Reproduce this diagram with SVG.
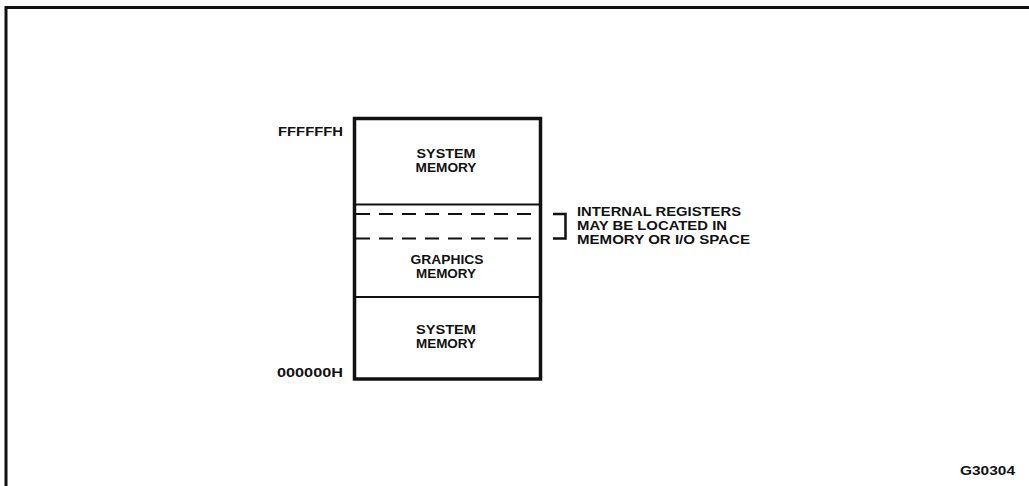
<svg xmlns="http://www.w3.org/2000/svg" width="1029" height="486" viewBox="0 0 1029 486">
<style>
text{font-family:"Liberation Sans",Arial,sans-serif;font-weight:bold;font-size:12.5px;fill:#111}
.c{text-anchor:middle}
.r{text-anchor:end}
.thick{fill:none;stroke:#111;stroke-width:3.5}
.thin{fill:none;stroke:#111;stroke-width:2}
.dash{fill:none;stroke:#111;stroke-width:2;stroke-dasharray:14 9}
</style>
<rect width="1029" height="486" fill="#fff"/>
<g id="frame">
<path d="M6,486 V7.5 H1029" fill="none" stroke="#111" stroke-width="3"/>
</g>
<g id="memory-map">
<rect class="thick" x="354.5" y="118.5" width="186" height="260.5"/>
<line class="thin" x1="356" y1="204.5" x2="539" y2="204.5"/>
<line class="thin" x1="356" y1="297" x2="539" y2="297" stroke-width="2.5"/>
</g>
<g id="system-memory-top">
<text class="c" x="446" y="158" textLength="59" lengthAdjust="spacingAndGlyphs">SYSTEM</text>
<text class="c" x="446" y="172" textLength="61" lengthAdjust="spacingAndGlyphs">MEMORY</text>
</g>
<g id="internal-registers">
<line class="dash" x1="356" y1="214" x2="539" y2="214"/>
<line class="dash" x1="356" y1="238.5" x2="539" y2="238.5"/>
</g>
<g id="graphics-memory">
<text class="c" x="447" y="264" textLength="73" lengthAdjust="spacingAndGlyphs">GRAPHICS</text>
<text class="c" x="446" y="278" textLength="60" lengthAdjust="spacingAndGlyphs">MEMORY</text>
</g>
<g id="system-memory-bottom">
<text class="c" x="446" y="334" textLength="60" lengthAdjust="spacingAndGlyphs">SYSTEM</text>
<text class="c" x="446" y="348" textLength="60" lengthAdjust="spacingAndGlyphs">MEMORY</text>
</g>
<g id="addresses">
<text class="r" x="343" y="136" textLength="65" lengthAdjust="spacingAndGlyphs">FFFFFFH</text>
<text class="r" x="343" y="377" textLength="66" lengthAdjust="spacingAndGlyphs">000000H</text>
</g>
<g id="connectors">
<path d="M553,214 H565.5 V238.5 H553" fill="none" stroke="#111" stroke-width="2.5"/>
</g>
<g id="note">
<text x="577" y="216" textLength="164" lengthAdjust="spacingAndGlyphs">INTERNAL REGISTERS</text>
<text x="577" y="230" textLength="150" lengthAdjust="spacingAndGlyphs">MAY BE LOCATED IN</text>
<text x="577" y="244" textLength="173" lengthAdjust="spacingAndGlyphs">MEMORY OR I/O SPACE</text>
</g>
<g id="figure-id">
<text x="960" y="475" textLength="55" lengthAdjust="spacingAndGlyphs">G30304</text>
</g>
</svg>
